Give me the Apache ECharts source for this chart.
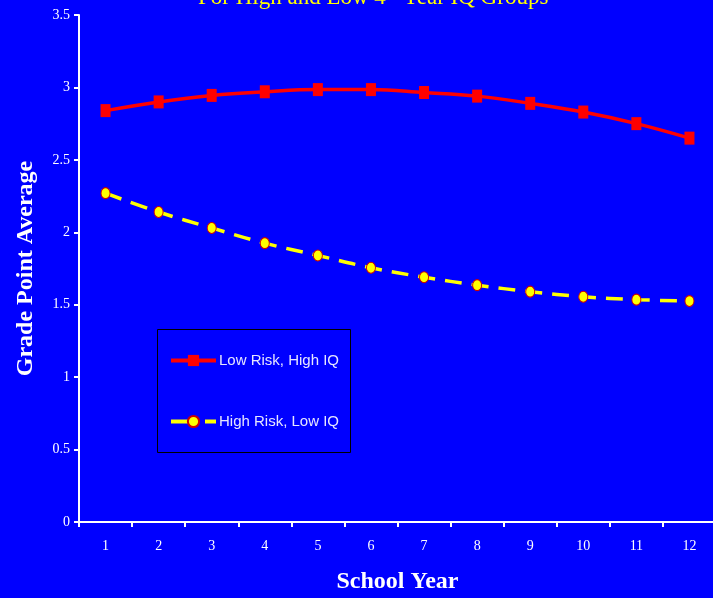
<!DOCTYPE html>
<html><head><meta charset="utf-8">
<script src="https://cdn.jsdelivr.net/npm/echarts@6/dist/echarts.min.js"></script>
<style>html,body{margin:0;padding:0;background:#0000ff}#c{width:713px;height:598px}</style>
</head><body><div id="c"></div>
<script>
const years = ['1','2','3','4','5','6','7','8','9','10','11','12'];
const lowRiskHighIQ = [2.84, 2.90, 2.945, 2.97, 2.985, 2.985, 2.965, 2.94, 2.89, 2.83, 2.75, 2.65];
const highRiskLowIQ = [2.27, 2.14, 2.03, 1.925, 1.84, 1.755, 1.69, 1.635, 1.59, 1.555, 1.535, 1.525];
const yTicks = [0, 0.5, 1, 1.5, 2, 2.5, 3, 3.5];

const chart = echarts.init(document.getElementById('c'));
chart.setOption({
  backgroundColor: '#0000ff',
  animation: false,
  title: {
    text: 'For High and Low 4{sup|th} Year IQ Groups',
    left: 193, top: -21,
    textStyle: { color: '#ffff00', fontFamily: 'Liberation Serif', fontSize: 23, fontWeight: 'normal',
      rich: { sup: { color: '#ffff00', fontFamily: 'Liberation Serif', fontSize: 14, verticalAlign: 'top', padding: [0,0,13,0] } } }
  },
  grid: { left: 79, top: 15, width: 637, bottom: 76, containLabel: false, outerBoundsMode: 'none' },
  xAxis: {
    type: 'category', data: years, boundaryGap: true,
    name: 'School Year', nameLocation: 'middle', nameGap: 48,
    nameTextStyle: { color: '#ffffff', fontFamily: 'Liberation Serif', fontSize: 24, fontWeight: 'bold' },
    axisLine: { lineStyle: { color: '#ffffff', width: 2 } },
    axisTick: { show: true, alignWithLabel: false, length: 5, lineStyle: { color: '#ffffff', width: 2 } },
    axisLabel: { color: '#ffffff', fontFamily: 'Liberation Serif', fontSize: 14, margin: 17 },
    splitLine: { show: false }
  },
  yAxis: {
    type: 'value', min: yTicks[0], max: yTicks[yTicks.length-1], interval: 0.5,
    name: 'Grade Point Average', nameLocation: 'middle', nameGap: 41,
    nameTextStyle: { color: '#ffffff', fontFamily: 'Liberation Serif', fontSize: 24, fontWeight: 'bold' },
    axisLine: { show: true, lineStyle: { color: '#ffffff', width: 2 } },
    axisTick: { show: true, length: 5, lineStyle: { color: '#ffffff', width: 2 } },
    axisLabel: { color: '#ffffff', fontFamily: 'Liberation Serif', fontSize: 14, margin: 9 },
    splitLine: { show: false }
  },
  legend: {
    orient: 'vertical', left: 169, top: 353, itemGap: 46, padding: 0,
    itemWidth: 45, itemHeight: 14,
    lineStyle: { width: 4 },
    textStyle: { color: '#e6e6ff', fontFamily: 'Liberation Sans', fontSize: 15, padding: [0,0,0,-2] },
    data: [
      { name: 'Low Risk, High IQ' },
      { name: 'High Risk, Low IQ', lineStyle: { width: 4, type: [22, 12] } }
    ]
  },
  graphic: [{
    type: 'rect', left: 155, top: 327, z: 0,
    shape: { width: 193, height: 123 },
    style: { fill: 'none', stroke: '#000000', lineWidth: 1 }
  }],
  series: [
    {
      name: 'Low Risk, High IQ', type: 'line', data: lowRiskHighIQ, smooth: 0.4,
      symbol: 'rect', symbolSize: [10, 13],
      lineStyle: { color: '#ff0000', width: 3.5 },
      itemStyle: { color: '#ff0000' }
    },
    {
      name: 'High Risk, Low IQ', type: 'line', data: highRiskLowIQ, smooth: 0.4,
      symbol: 'circle', symbolSize: [9, 11],
      lineStyle: { color: '#ffff00', width: 3.5, type: [17, 10] },
      itemStyle: { color: '#ffff00', borderColor: '#cc0000', borderWidth: 1 }
    }
  ]
});
</script></body></html>
